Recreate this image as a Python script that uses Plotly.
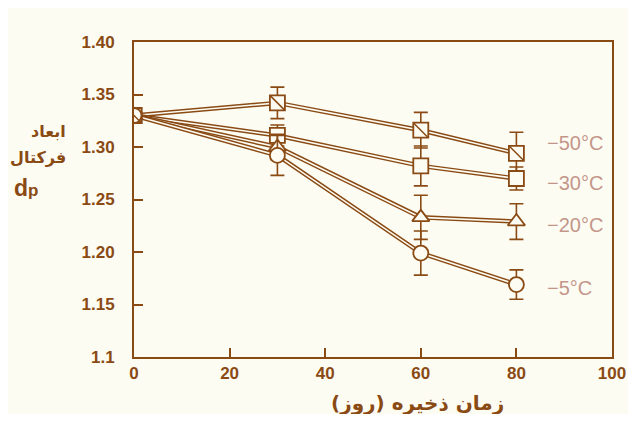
import plotly.graph_objects as go

days = [0, 30, 60, 80]
series_names = ["−50°C", "−30°C", "−20°C", "−5°C"]
vals_50 = [1.330, 1.342, 1.316, 1.294]
err_50 = [0.0, 0.015, 0.017, 0.020]
vals_30 = [1.330, 1.311, 1.282, 1.270]
err_30 = [0.0, 0.010, 0.019, 0.011]
vals_20 = [1.330, 1.300, 1.233, 1.229]
err_20 = [0.0, 0.012, 0.021, 0.017]
vals_5 = [1.330, 1.292, 1.199, 1.169]
err_5 = [0.0, 0.019, 0.021, 0.014]
label_y = [1.304, 1.266, 1.226, 1.166]
x_ticks = [0, 20, 40, 60, 80, 100]
y_ticks = [1.10, 1.15, 1.20, 1.25, 1.30, 1.35, 1.40]
y_tick_text = ["1.1", "1.15", "1.20", "1.25", "1.30", "1.35", "1.40"]
x_title = "زمان ذخیره (روز)"
y_title_lines = ["ابعاد", "فرکتال"]

BROWN = "#8a4a14"
BG = "#fdfcf2"
LABEL = "#c4968a"

symbols = ["square", "square", "triangle-up", "circle"]
all_vals = [vals_50, vals_30, vals_20, vals_5]
all_errs = [err_50, err_30, err_20, err_5]

fig = go.Figure()

# double-line effect: thick brown, then thin background line on top
for v in all_vals:
    fig.add_trace(go.Scatter(x=days, y=v, mode="lines",
                             line=dict(color=BROWN, width=4.5), showlegend=False, hoverinfo="skip"))
    fig.add_trace(go.Scatter(x=days, y=v, mode="lines",
                             line=dict(color=BG, width=1.6), showlegend=False, hoverinfo="skip"))

for name, v, e, s in zip(series_names, all_vals, all_errs, symbols):
    fig.add_trace(go.Scatter(
        x=days, y=v, mode="markers", name=name, showlegend=False,
        error_y=dict(type="data", array=e, color=BROWN, thickness=1.6, width=7),
        marker=dict(symbol=s, size=15, color=BG, line=dict(color=BROWN, width=1.8)),
    ))

# diagonal slash inside the -50 squares
fig.add_trace(go.Scatter(x=days, y=vals_50, mode="markers", showlegend=False, hoverinfo="skip",
                         marker=dict(symbol="line-nw", size=14, line=dict(color=BROWN, width=1.5))))

for name, ly in zip(series_names, label_y):
    fig.add_annotation(x=86, y=ly, text=name, showarrow=False, xanchor="left", yanchor="middle",
                       font=dict(family="Arial, Liberation Sans", size=20, color=LABEL))

# y-axis title (three lines)
fig.add_annotation(xref="paper", yref="paper", x=-0.138, y=0.717, text="<b>" + y_title_lines[0] + "</b>",
                   showarrow=False, xanchor="right", yanchor="middle",
                   font=dict(family="DejaVu Sans", size=16, color=BROWN))
fig.add_annotation(xref="paper", yref="paper", x=-0.138, y=0.632, text="<b>" + y_title_lines[1] + "</b>",
                   showarrow=False, xanchor="right", yanchor="middle",
                   font=dict(family="DejaVu Sans", size=16, color=BROWN))
fig.add_annotation(xref="paper", yref="paper", x=-0.255, y=0.537,
                   text="<b>d<span style='font-size:17px'>p</span></b>",
                   showarrow=False, xanchor="left", yanchor="middle",
                   font=dict(family="Arial, Liberation Sans", size=23, color=BROWN))

# x-axis title
fig.add_annotation(xref="paper", yref="paper", x=0.594, y=-0.146, text="<b>" + x_title + "</b>",
                   showarrow=False, xanchor="center", yanchor="middle",
                   font=dict(family="DejaVu Sans", size=20, color=BROWN))

fig.update_layout(
    width=620, height=406,
    margin=dict(l=126, r=16, t=34, b=57),
    paper_bgcolor=BG, plot_bgcolor=BG,
    xaxis=dict(range=[0, 100], tickvals=x_ticks, ticks="inside", ticklen=9, tickwidth=2,
               tickcolor=BROWN, showline=True, linecolor=BROWN, linewidth=2, mirror=True,
               showgrid=False, zeroline=False, automargin=False,
               tickfont=dict(family="Arial, Liberation Sans", size=17, color=BROWN, weight="bold")),
    yaxis=dict(range=[1.10, 1.40], tickvals=y_ticks, ticktext=y_tick_text, ticks="inside", ticklen=9,
               tickwidth=2, tickcolor=BROWN, showline=True, linecolor=BROWN, linewidth=2, mirror=True,
               showgrid=False, zeroline=False, ticklabelstandoff=14, automargin=False,
               tickfont=dict(family="Arial, Liberation Sans", size=17, color=BROWN, weight="bold")),
)

fig.write_html("out.html")
